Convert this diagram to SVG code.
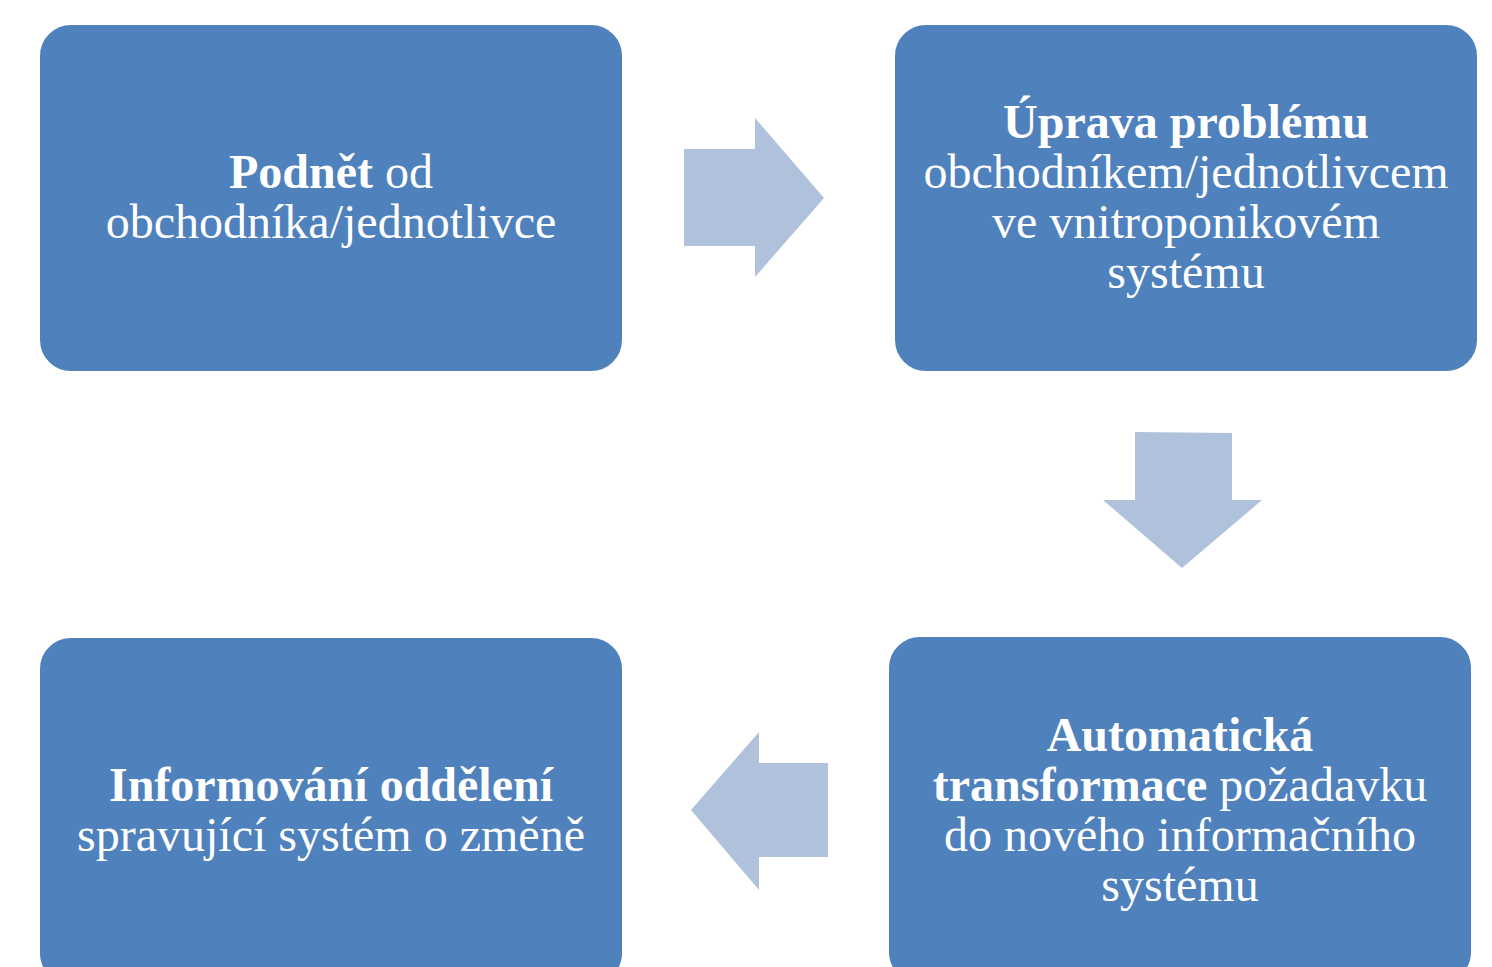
<svg xmlns="http://www.w3.org/2000/svg" width="1492" height="967" viewBox="0 0 1492 967">
<style>
.box{fill:#4F81BD;stroke:#FFFFFF;stroke-width:2}
.arr{fill:#B0C1DC}
text{font-family:"Liberation Serif","Times New Roman",serif;font-size:48px;fill:#FFFFFF;text-anchor:middle}
.b{font-weight:bold}
</style>
<rect width="1492" height="967" fill="#FFFFFF"/>
<g id="connectors">
<polygon class="arr" points="684,149 755,149 755,118 824,198 755,277 755,246 684,246"/>
<polygon class="arr" points="1135,432 1232,433 1232,500 1262,500 1182,568 1103,500 1135,500"/>
<polygon class="arr" points="828,763 759,763 759,732 691,810 759,890 759,857 828,857"/>
</g>
<g id="n1">
<rect class="box" x="39" y="24" width="584" height="348" rx="32"/>
<text x="331" y="188"><tspan class="b">Podnět</tspan> od</text>
<text x="331" y="238">obchodníka/jednotlivce</text>
</g>
<g id="n2">
<rect class="box" x="894" y="24" width="584" height="348" rx="32"/>
<text x="1186" y="138" class="b">Úprava problému</text>
<text x="1186" y="188">obchodníkem/jednotlivcem</text>
<text x="1186" y="238">ve vnitroponikovém</text>
<text x="1186" y="288">systému</text>
</g>
<g id="n3">
<rect class="box" x="888" y="636" width="584" height="348" rx="32"/>
<text x="1180" y="751" class="b">Automatická</text>
<text x="1180" y="801"><tspan class="b">transformace</tspan> požadavku</text>
<text x="1180" y="851">do nového informačního</text>
<text x="1180" y="901">systému</text>
</g>
<g id="n4">
<rect class="box" x="39" y="637" width="584" height="348" rx="32"/>
<text x="331" y="801" class="b">Informování oddělení</text>
<text x="331" y="851">spravující systém o změně</text>
</g>
</svg>
